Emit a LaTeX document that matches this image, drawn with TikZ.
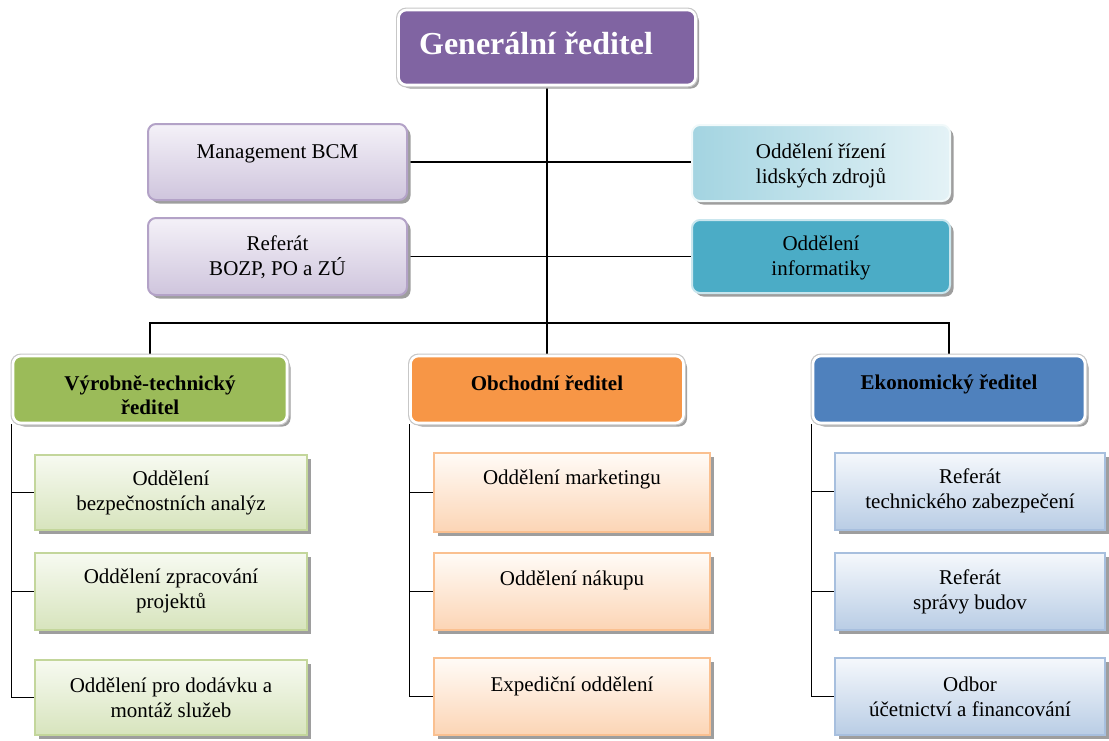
\documentclass[tikz,border=0pt]{standalone}
\usepackage{fontspec}
\setmainfont{Liberation Serif}
\usetikzlibrary{shadows,backgrounds}
\definecolor{grfill}{HTML}{8064A2}
\definecolor{vtfill}{HTML}{9BBB59}
\definecolor{obfill}{HTML}{F79646}
\definecolor{ekfill}{HTML}{4F81BD}
\definecolor{inffill}{HTML}{4BACC6}
\definecolor{mgtop}{HTML}{F4F1F8}
\definecolor{mgbot}{HTML}{CFC5DD}
\definecolor{mgline}{HTML}{B3A2C7}
\definecolor{olzleft}{HTML}{A3D4E1}
\definecolor{olzright}{HTML}{E4F2F6}
\definecolor{grtop}{HTML}{F7FAF1}
\definecolor{grbot}{HTML}{D7E4BD}
\definecolor{grline}{HTML}{C3D69B}
\definecolor{ortop}{HTML}{FFFBF7}
\definecolor{orbot}{HTML}{FCD5B5}
\definecolor{orline}{HTML}{FAC090}
\definecolor{bltop}{HTML}{F5F8FC}
\definecolor{blbot}{HTML}{B9CDE5}
\definecolor{blline}{HTML}{A7BFDE}
\tikzset{
  txt/.style={align=center, inner sep=0pt, font=\fontsize{21}{25}\selectfont},
  btxt/.style={align=center, inner sep=0pt, font=\bfseries\fontsize{21}{24}\selectfont},
  shad/.style={drop shadow={shadow xshift=3.5pt, shadow yshift=-3.5pt, fill=black!38, opacity=1}},
  dirbox/.style={inner sep=0pt, shad, rounded corners=8pt, preaction={draw=black!22, line width=5pt},
    draw=white, line width=2.6pt},
  topbox/.style={inner sep=0pt, shad, rounded corners=8pt, line width=2pt},
  subbox/.style={inner sep=0pt, shad, line width=2pt},
  conn/.style={line width=1.3pt, black},
}
\begin{document}
\begin{tikzpicture}[x=1pt,y=-1pt]
\useasboundingbox (0,0) rectangle (1109,740);
% top
\node[dirbox, fill=grfill, minimum width=297pt, minimum height=75pt,
  label={[align=center, inner sep=0pt, text=white, font=\bfseries\fontsize{32}{36}\selectfont, xshift=-11pt, yshift=4.5pt]center:Generální ředitel}]
  (gr) at (547,47.5) {};
% staff
\node[topbox, draw=mgline, top color=mgtop, bottom color=mgbot, minimum width=259pt, minimum height=76pt,
  label={[txt, yshift=8pt]center:Management BCM}]
  (mgmt) at (277.5,162) {};
\node[topbox, draw=mgline, top color=mgtop, bottom color=mgbot, minimum width=259pt, minimum height=77pt,
  label={[txt, yshift=-1pt]center:{Referát\\BOZP, PO a ZÚ}}]
  (bozp) at (277.5,256.5) {};
\node[topbox, draw=white!85!olzleft, left color=olzleft, right color=olzright, minimum width=258pt, minimum height=76pt,
  label={[txt, yshift=-2.5pt]center:{Oddělení řízení\\lidských zdrojů}}]
  (olz) at (821,163) {};
\node[topbox, draw=white!70!inffill, fill=inffill, minimum width=258pt, minimum height=73pt,
  label={[txt, yshift=-1pt]center:{Oddělení\\informatiky}}]
  (inf) at (821,256.5) {};
% directors
\node[dirbox, fill=vtfill, minimum width=274pt, minimum height=67pt,
  label={[btxt, yshift=-5.5pt]center:{Výrobně-technický\\ředitel}}] (vt) at (150,389.5) {};
\node[dirbox, fill=obfill, minimum width=273pt, minimum height=67pt,
  label={[btxt, yshift=6.5pt]center:Obchodní ředitel}] (ob) at (547,389.5) {};
\node[dirbox, fill=ekfill, minimum width=272pt, minimum height=67pt,
  label={[btxt, yshift=5pt]center:Ekonomický ředitel}] (ek) at (949,389.5) {};
% left column
\node[subbox, draw=grline, top color=grtop, bottom color=grbot, minimum width=272pt, minimum height=75pt,
  label={[txt]center:{Oddělení\\bezpečnostních analýz}}]
  (l1) at (171,492.5) {};
\node[subbox, draw=grline, top color=grtop, bottom color=grbot, minimum width=272pt, minimum height=77pt,
  label={[txt, yshift=1pt]center:{Oddělení zpracování\\projektů}}]
  (l2) at (171,591.5) {};
\node[subbox, draw=grline, top color=grtop, bottom color=grbot, minimum width=272pt, minimum height=75pt,
  label={[txt]center:{Oddělení pro dodávku a\\montáž služeb}}]
  (l3) at (171,697.5) {};
% middle column
\node[subbox, draw=orline, top color=ortop, bottom color=orbot, minimum width=276pt, minimum height=79pt,
  label={[txt, yshift=13.5pt]center:Oddělení marketingu}]
  (m1) at (572,492.5) {};
\node[subbox, draw=orline, top color=ortop, bottom color=orbot, minimum width=276pt, minimum height=77pt,
  label={[txt, yshift=11.5pt]center:Oddělení nákupu}]
  (m2) at (572,591.5) {};
\node[subbox, draw=orline, top color=ortop, bottom color=orbot, minimum width=276pt, minimum height=77pt,
  label={[txt, yshift=10.5pt]center:Expediční oddělení}]
  (m3) at (572,696.5) {};
% right column
\node[subbox, draw=blline, top color=bltop, bottom color=blbot, minimum width=270pt, minimum height=77pt,
  label={[txt, yshift=1pt]center:{Referát\\technického zabezpečení}}]
  (r1) at (970,491.5) {};
\node[subbox, draw=blline, top color=bltop, bottom color=blbot, minimum width=270pt, minimum height=77pt,
  label={[txt]center:{Referát\\správy budov}}]
  (r2) at (970,591.5) {};
\node[subbox, draw=blline, top color=bltop, bottom color=blbot, minimum width=270pt, minimum height=77pt,
  label={[txt]center:{Odbor\\účetnictví a financování}}]
  (r3) at (970,696.5) {};
% connectors
\coordinate (j) at (547,323);
\begin{pgfonlayer}{background}
\draw[conn] (gr.south) -- (j);
\draw[conn] (mgmt.east) -- (mgmt.east -| olz.west);
\draw[conn] (bozp.east) -- (bozp.east -| inf.west);
\draw[conn] (vt.north) |- (j) -| (ek.north);
\draw[conn] (j) -- (ob.north);
\draw[conn] (vt.south west) |- (l3.west);
\draw[conn] (l1.west -| vt.south west) -- (l1.west);
\draw[conn] (l2.west -| vt.south west) -- (l2.west);
\draw[conn] (ob.south west) |- (m3.west);
\draw[conn] (m1.west -| ob.south west) -- (m1.west);
\draw[conn] (m2.west -| ob.south west) -- (m2.west);
\draw[conn] (ek.south west) |- (r3.west);
\draw[conn] (r1.west -| ek.south west) -- (r1.west);
\draw[conn] (r2.west -| ek.south west) -- (r2.west);
\end{pgfonlayer}
\end{tikzpicture}
\end{document}
